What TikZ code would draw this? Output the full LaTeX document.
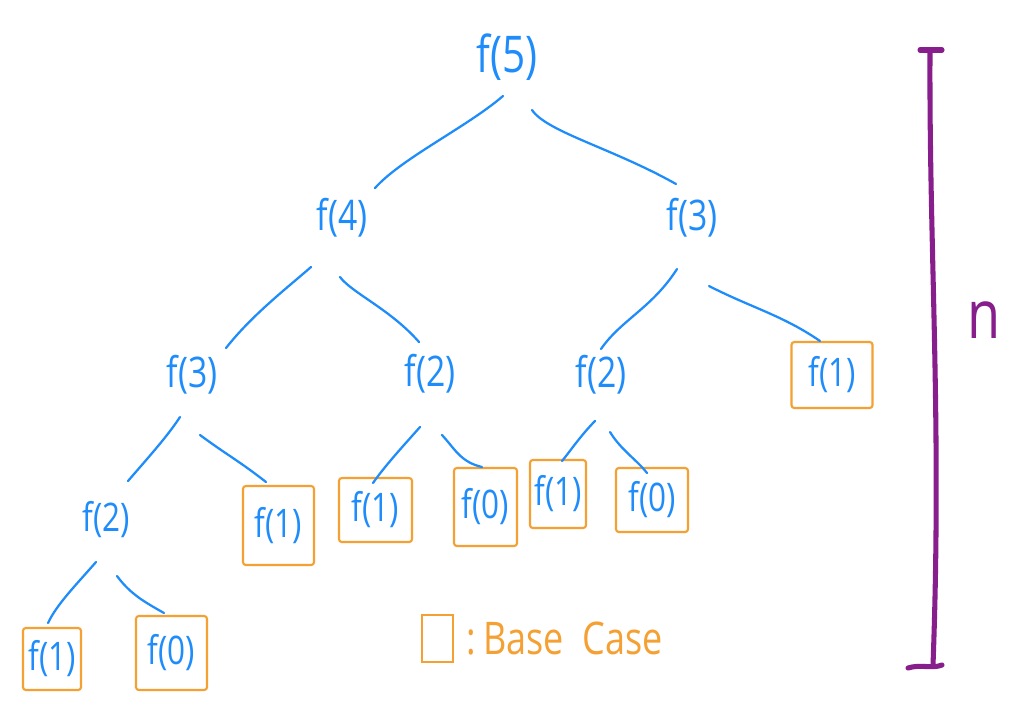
\documentclass[tikz,border=0pt]{standalone}
\usepackage{fontspec}
\setmainfont{Open Sans}[FakeStretch=0.8]
\usetikzlibrary{calc}
\definecolor{penblue}{RGB}{30,140,250}
\definecolor{penorange}{RGB}{245,160,50}
\definecolor{penpurple}{RGB}{135,30,140}
\tikzset{
  callnode/.style={text=penblue, inner sep=0pt, font=\fontsize{30}{32}\selectfont},
  bigcall/.style={callnode, font=\fontsize{36}{38}\selectfont},
  smallcall/.style={callnode, font=\fontsize{28}{30}\selectfont},
  basebox/.style={draw=penorange, line width=1.5pt, rounded corners=2pt, text=penblue,
     inner sep=0pt, font=\fontsize{28}{30}\selectfont},
  edge/.style={draw=penblue, line width=1.6pt, line cap=round},
  bar/.style={draw=penpurple, line width=3.6pt, line cap=round},
}
\begin{document}
\begin{tikzpicture}[x=0.25mm, y=-0.25mm]
\path[fill=white] (0,0) rectangle (1024,726);
\useasboundingbox (0,0) rectangle (1024,726);

% tree nodes
\node[bigcall] (f5) at (507,57) {f(5)};
\node[callnode] (f4) at (342,218) {f(4)};
\node[callnode] (f3r) at (692,218) {f(3)};
\node[callnode] (f3l) at (192,375) {f(3)};
\node[callnode] (f2m) at (430,374) {f(2)};
\node[callnode] (f2r) at (601,375) {f(2)};
\node[smallcall] (f2l) at (106,520) {f(2)};

% base cases
\node[basebox, minimum width=20.25mm, minimum height=16.5mm] (b1) at (832,375) {f(1)};
\node[basebox, minimum width=17.75mm, minimum height=19.75mm] (b2) at (278.5,525.5) {f(1)};
\node[basebox, minimum width=18.25mm, minimum height=16mm] (b3) at (375.5,510) {f(1)};
\node[basebox, minimum width=15.75mm, minimum height=19.5mm] (b4) at (485.5,507) {f(0)};
\node[basebox, minimum width=14mm, minimum height=17mm] (b5) at (558,494) {f(1)};
\node[basebox, minimum width=18mm, minimum height=16mm] (b6) at (652,500) {f(0)};
\node[basebox, minimum width=14.5mm, minimum height=15.5mm] (b7) at (52,659) {f(1)};
\node[basebox, minimum width=17.75mm, minimum height=18.5mm] (b8) at (171.5,653) {f(0)};

% connectors
\draw[edge] ($(f5)+(-4,39)$) .. controls ($(f5)+(-40,70)$) and ($(f4)+(60,-60)$) .. ($(f4)+(33,-30)$);
\draw[edge] ($(f5)+(25,53)$) .. controls ($(f5)+(40,75)$) and ($(f3r)+(-80,-70)$) .. ($(f3r)+(-16,-34)$);
\draw[edge] ($(f4)+(-31,49)$) .. controls ($(f4)+(-55,70)$) and ($(f3l)+(60,-60)$) .. ($(f3l)+(34,-27)$);
\draw[edge] ($(f4)+(-2,59)$) .. controls ($(f4)+(10,75)$) and ($(f2m)+(-40,-65)$) .. ($(f2m)+(-11,-32)$);
\draw[edge] ($(f3r)+(-15,51)$) .. controls ($(f3r)+(-40,90)$) and ($(f2r)+(20,-55)$) .. ($(f2r)+(0,-26)$);
\draw[edge] ($(f3r)+(17,68)$) .. controls ($(f3r)+(60,90)$) and ($(b1)+(-50,-60)$) .. ($(b1)+(-12,-34)$);
\draw[edge] ($(f3l)+(-12,42)$) .. controls ($(f3l)+(-25,62)$) and ($(f2l)+(40,-60)$) .. ($(f2l)+(22,-39)$);
\draw[edge] ($(f3l)+(8,60)$) .. controls ($(f3l)+(35,80)$) and ($(b2)+(-40,-65)$) .. ($(b2)+(-12.5,-43.5)$);
\draw[edge] ($(f2m)+(-10,53)$) .. controls ($(f2m)+(-25,70)$) and ($(b3)+(10,-45)$) .. ($(b3)+(-2.5,-27)$);
\draw[edge] ($(f2m)+(12,61)$) .. controls ($(f2m)+(25,75)$) and ($(b4)+(-25,-45)$) .. ($(b4)+(-3.5,-40)$);
\draw[edge] ($(f2r)+(-6,46)$) .. controls ($(f2r)+(-20,60)$) and ($(b5)+(10,-40)$) .. ($(b5)+(4,-33)$);
\draw[edge] ($(f2r)+(9,57)$) .. controls ($(f2r)+(20,75)$) and ($(b6)+(-15,-40)$) .. ($(b6)+(-5,-27)$);
\draw[edge] ($(f2l)+(-10,42)$) .. controls ($(f2l)+(-30,65)$) and ($(b7)+(5,-55)$) .. ($(b7)+(-4,-36)$);
\draw[edge] ($(f2l)+(11,56)$) .. controls ($(f2l)+(25,75)$) and ($(b8)+(-25,-50)$) .. ($(b8)+(-7.5,-40)$);

% legend
\node[draw=penorange, line width=1.5pt, minimum width=7.75mm, minimum height=11.75mm, inner sep=0pt] (lg) at (437.5,638.5) {};
\node[text=penorange, anchor=west, inner sep=0pt, font=\fontsize{32}{34}\selectfont] (lgt) at ($(lg.east)+(12,0)$) {:\,Base\ \ Case};

% height bar
\draw[bar] (930,52) .. controls (929,250) and (942,420) .. (933,665);
\draw[bar] (920,50) -- (942,50);
\draw[bar] (908,668) .. controls (920,664) and (932,669) .. (942,665);
\node[text=penpurple, inner sep=0pt, font=\fontsize{48}{50}\selectfont] (n) at (984,320) {n};
\end{tikzpicture}
\end{document}
